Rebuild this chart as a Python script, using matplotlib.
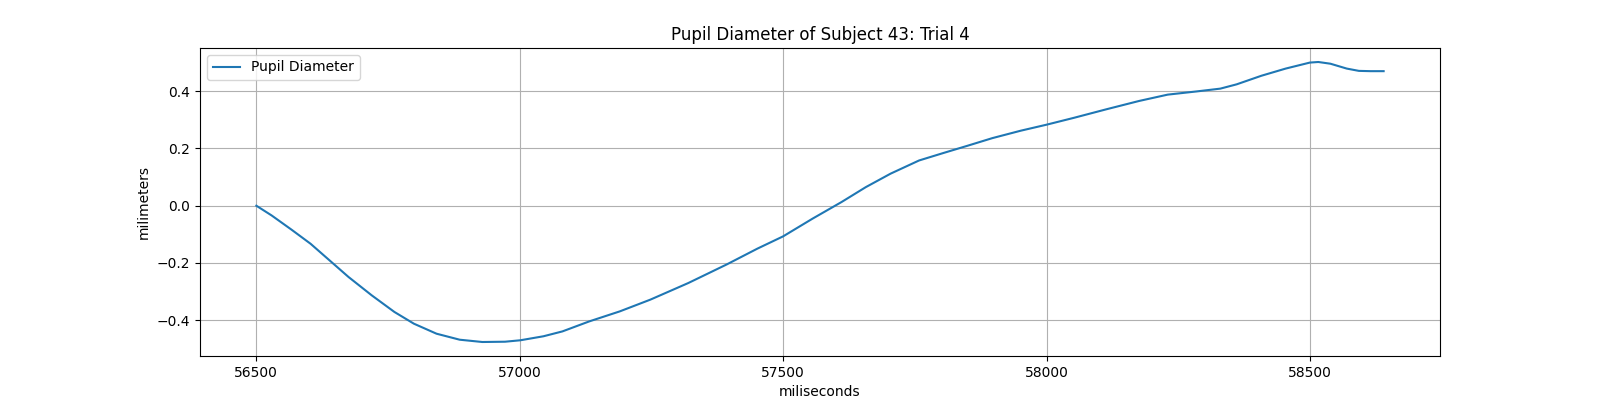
import matplotlib
matplotlib.use("Agg")
import matplotlib.pyplot as plt

time_ms = [56500, 56529, 56567, 56603, 56639, 56675, 56719, 56762, 56799, 56842,
           56886, 56929, 56972, 57001, 57045, 57081, 57132, 57190, 57248, 57320,
           57393, 57451, 57500, 57556, 57611, 57657, 57704, 57758, 57804, 57851,
           57897, 57951, 58000, 58052, 58114, 58176, 58230, 58284, 58330, 58361,
           58408, 58454, 58500, 58516, 58539, 58570, 58593, 58615, 58640]
diameter = [0.000, -0.034, -0.084, -0.133, -0.191, -0.249, -0.313, -0.371, -0.412, -0.447,
            -0.468, -0.476, -0.475, -0.470, -0.456, -0.439, -0.404, -0.369, -0.328, -0.270,
            -0.205, -0.150, -0.107, -0.045, 0.013, 0.065, 0.112, 0.158, 0.184, 0.210,
            0.236, 0.262, 0.283, 0.307, 0.337, 0.366, 0.388, 0.399, 0.409, 0.424,
            0.454, 0.479, 0.500, 0.502, 0.496, 0.479, 0.471, 0.470, 0.470]

fig, ax = plt.subplots(figsize=(16, 4), dpi=100)
ax.plot(time_ms, diameter, label="Pupil Diameter")
ax.set_title("Pupil Diameter of Subject 43: Trial 4")
ax.set_xlabel("miliseconds")
ax.set_ylabel("milimeters")
ax.grid(True)
ax.legend(loc="upper left")
fig.savefig("out.png")
